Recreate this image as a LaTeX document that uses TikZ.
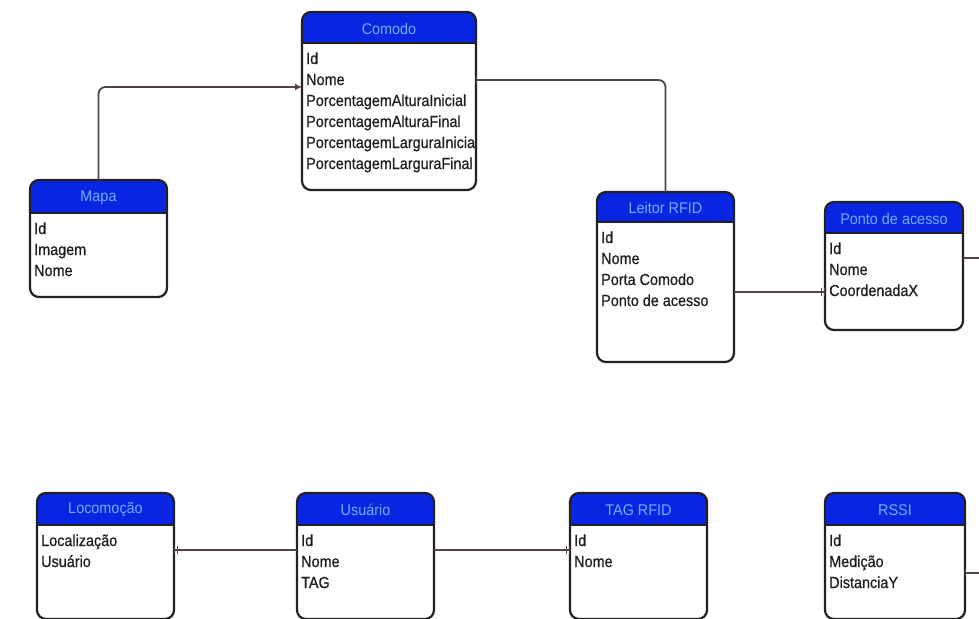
\documentclass[tikz,border=0pt]{standalone}
\usepackage{fontspec}
\setmainfont{Liberation Sans}
\newfontfamily\bodyfont[FakeStretch=0.9,FakeBold=0.6]{Liberation Sans}
\newfontfamily\titlefont[FakeStretch=0.93]{Liberation Sans}
\usetikzlibrary{arrows.meta}
\definecolor{hdrblue}{RGB}{8,38,225}
\definecolor{hdrtext}{RGB}{110,175,255}
\definecolor{boxline}{RGB}{35,32,36}
\definecolor{connline}{RGB}{80,68,72}
\definecolor{bodyink}{RGB}{30,28,30}
\tikzset{
  ebox/.style={fill=white, inner sep=0pt, outer sep=0pt, rectangle},
  titletext/.style={text=hdrtext, inner sep=0pt, font=\titlefont\fontsize{15.5}{17}\selectfont},
  bodytext/.style={anchor=base west, align=left, inner sep=0pt, text=bodyink, font=\bodyfont\fontsize{16}{21}\selectfont},
  conn/.style={draw=connline, line width=1.8pt},
}
% name, left, top, right, bottom, header bottom, title, number of lines, body
\newcommand\entity[9]{%
  \node[ebox, minimum width={(#4-#2)*1pt}, minimum height={(#5-#3)*1pt}] (#1) at ({(#2+#4)/2},{(#3+#5)/2}) {};
  \begin{scope}
    \clip[rounded corners=9pt] (#1.north west) rectangle (#1.south east);
    \fill[hdrblue] (#1.north west) rectangle (#4,#6);
  \end{scope}
  \draw[boxline, line width=1.2pt] (#2,#6) -- (#4,#6);
  \draw[boxline, line width=2.2pt, rounded corners=9pt] (#1.north west) rectangle (#1.south east);
  \node[titletext] (#1-title) at ({(#2+#4)/2},{(#3+#6)/2+1}) {#7};
  \node[bodytext] (#1-body) at ({#2+4},{#6+21+(#8-1)*21}) {#9};
}
\begin{document}
\begin{tikzpicture}[x=1pt, y=-1pt]
\useasboundingbox (0,0) rectangle (979,618);
\fill[white] (0,0) rectangle (979,618);
\clip (0,0) rectangle (979,618);

\entity{comodo}{302}{12}{476}{190}{43}{Comodo}{6}{Id\\Nome\\PorcentagemAlturaInicial\\PorcentagemAlturaFinal\\PorcentagemLarguraInicia\\PorcentagemLarguraFinal}
\entity{mapa}{30}{180}{167}{297}{213}{Mapa}{3}{Id\\Imagem\\Nome}
\entity{leitor}{597}{192}{734}{362}{222}{Leitor RFID}{4}{Id\\Nome\\Porta Comodo\\Ponto de acesso}
\entity{ponto}{825}{202}{963}{330}{233}{Ponto de acesso}{3}{Id\\Nome\\CoordenadaX}
\entity{locomocao}{37}{493}{174}{619}{525}{Locomoção}{2}{Localização\\Usuário}
\entity{usuario}{297}{493}{434}{619}{525}{Usuário}{3}{Id\\Nome\\TAG}
\entity{tag}{570}{493}{707}{619}{525}{TAG RFID}{2}{Id\\Nome}
\entity{rssi}{825}{493}{965}{619}{525}{RSSI}{3}{Id\\Medição\\DistanciaY}

\coordinate (offA) at (1000,258);
\coordinate (offB) at (1000,573);

% connectors
\draw[conn, rounded corners=7pt, -{Latex[length=7pt,width=7pt]}] (mapa.north) |- ([yshift=-75pt]comodo.north west);
\draw[conn, rounded corners=7pt, {Bar[width=8pt,line width=1.3pt]}-] ([yshift=-68pt]comodo.north east) -| (leitor.north);
\draw[conn, -{Bar[width=8pt,line width=1.2pt,sep=1.5pt]Bar[width=8pt,line width=1.2pt]}] ([yshift=-100pt]leitor.north east) -- ([yshift=-90pt]ponto.north west);
\draw[conn] ([yshift=-56pt]ponto.north east) -- (offA);
\draw[conn, {Bar[width=8pt,line width=1.3pt]}-] ([yshift=-80pt]rssi.north east) -- (offB);
\draw[conn, -{Bar[width=8pt,line width=1.2pt,sep=1.5pt]Bar[width=8pt,line width=1.2pt]}] ([yshift=-57pt]usuario.north west) -- ([yshift=-57pt]locomocao.north east);
\draw[conn, -{Bar[width=8pt,line width=1.2pt,sep=1.5pt]Bar[width=8pt,line width=1.2pt]}] ([yshift=-57pt]usuario.north east) -- ([yshift=-57pt]tag.north west);
\end{tikzpicture}
\end{document}
